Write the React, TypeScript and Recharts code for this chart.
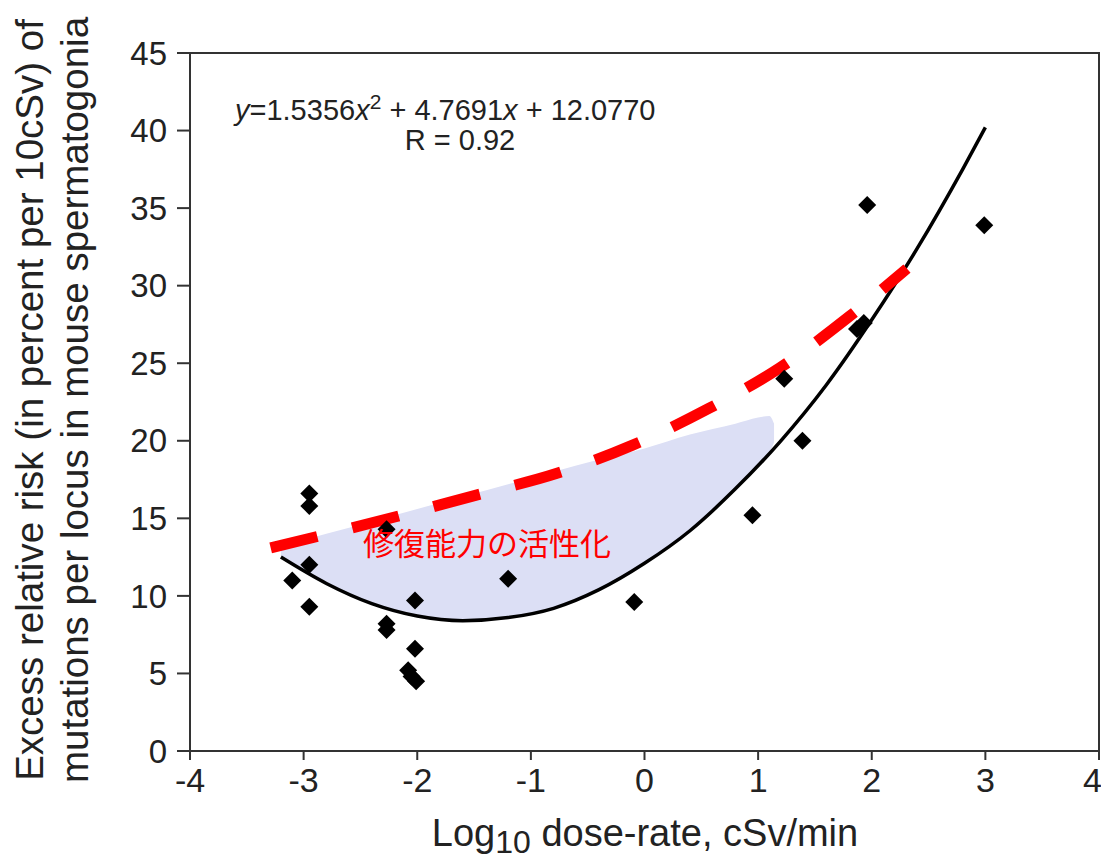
import {
  ComposedChart,
  Line,
  Area,
  Scatter,
  XAxis,
  YAxis,
  ReferenceArea,
} from 'recharts'

// Observed points (log10 dose-rate, excess relative risk)
const pointX = [-3.1, -2.95, -2.95, -2.95, -2.95, -2.27, -2.27, -2.27, -2.02, -2.02, -2.08, -2.05, -2.01, -1.2, -0.09, 0.95, 1.23, 1.39, 1.87, 1.93, 1.96, 2.99]
const pointY = [11.0, 16.6, 15.8, 12.0, 9.3, 14.3, 8.2, 7.8, 9.7, 6.6, 5.2, 4.8, 4.5, 11.1, 9.6, 15.2, 24.0, 20.0, 27.2, 27.6, 35.2, 33.9]

// Fitted quadratic curve
const curveX = [-3.2, -2.8, -2.4, -2.0, -1.6, -1.2, -0.8, -0.4, 0, 0.4, 0.8, 1.2, 1.6, 2.0, 2.4, 2.8, 3.0]
const curveY = [12.5, 10.8, 9.5, 8.7, 8.4, 8.6, 9.2, 10.4, 12.1, 14.2, 16.9, 20.0, 23.6, 27.8, 32.4, 37.5, 40.2]

// Red dashed "repair activation" line
const repairX = [-3.29, -2.19, -1.48, -0.77, -0.11, 0.57, 1.19, 1.8, 2.31]
const repairY = [13.1, 15.1, 16.5, 17.9, 19.7, 22.1, 24.7, 28.0, 31.1]

// Shaded band between fitted curve and its upper edge
const bandX = [-3.2, -2.8, -2.4, -2.0, -1.6, -1.2, -0.8, -0.4, 0, 0.4, 0.8, 1.0, 1.1, 1.14]
const bandLow = [12.5, 10.8, 9.5, 8.7, 8.4, 8.6, 9.2, 10.4, 12.1, 14.2, 16.9, 18.4, 19.2, 19.9]
const bandHigh = [13.2, 14.0, 14.8, 15.6, 16.4, 17.2, 18.0, 18.8, 19.5, 20.4, 21.1, 21.5, 21.6, 21.1]

const xTicks = [-4, -3, -2, -1, 0, 1, 2, 3, 4]
const yTicks = [0, 5, 10, 15, 20, 25, 30, 35, 40, 45]

const FONT = '"Liberation Sans", Arial, Helvetica, sans-serif'

const points = pointX.map((x, i) => ({ x, y: pointY[i] }))
const curve = curveX.map((x, i) => ({ x, y: curveY[i] }))
const repair = repairX.map((x, i) => ({ x, y: repairY[i] }))
const band = bandX.map((x, i) => ({ x, band: [bandLow[i], bandHigh[i]] }))

const Diamond = (props: any) => {
  const { cx, cy } = props
  const r = 9
  return (
    <polygon
      points={`${cx},${cy - r} ${cx + r},${cy} ${cx},${cy + r} ${cx - r},${cy}`}
      fill="#000"
    />
  )
}

export default function App() {
  return (
    <div style={{ position: 'absolute', left: 0, top: 0, width: 1101, height: 862, background: '#fff' }}>
      <ComposedChart
        width={1101}
        height={862}
        margin={{ top: 53, right: 2, bottom: 51, left: 90 }}
      >
        <XAxis
          type="number"
          dataKey="x"
          domain={[-4, 4]}
          ticks={xTicks}
          allowDataOverflow
          height={60}
          tickSize={9}
          tickMargin={8}
          stroke="#333"
          strokeWidth={2}
          tick={{ fill: '#222', fontSize: 34, fontFamily: FONT }}
        />
        <YAxis
          type="number"
          dataKey="y"
          domain={[0, 45]}
          ticks={yTicks}
          allowDataOverflow
          width={100}
          tickSize={13}
          tickMargin={10}
          stroke="#333"
          strokeWidth={2}
          tick={{ fill: '#222', fontSize: 33, fontFamily: FONT }}
        />
        <ReferenceArea x1={-4} x2={4} y1={0} y2={45} fill="none" stroke="#333" strokeWidth={2} />
        <Area
          data={band}
          dataKey="band"
          type="monotone"
          fill="#dcdff5"
          fillOpacity={1}
          stroke="none"
          isAnimationActive={false}
        />
        <Line
          data={curve}
          dataKey="y"
          type="monotone"
          stroke="#000"
          strokeWidth={3.5}
          dot={false}
          isAnimationActive={false}
        />
        <Scatter data={points} dataKey="y" shape={<Diamond />} isAnimationActive={false} />
        <Line
          data={repair}
          dataKey="y"
          type="monotone"
          stroke="#ff0000"
          strokeWidth={11}
          strokeDasharray="48 36"
          dot={false}
          isAnimationActive={false}
        />
      </ComposedChart>

      <svg
        width={1101}
        height={862}
        style={{ position: 'absolute', left: 0, top: 0, pointerEvents: 'none' }}
        fontFamily={FONT}
      >
        <text transform="translate(43,400) rotate(-90)" textAnchor="middle" fontSize={38.5} fill="#222">
          Excess relative risk (in percent per 10cSv) of
        </text>
        <text transform="translate(88,400) rotate(-90)" textAnchor="middle" fontSize={38.5} fill="#222">
          mutations per locus in mouse spermatogonia
        </text>
        <text x={645} y={846} textAnchor="middle" fontSize={38} fill="#222">
          <tspan>Log</tspan>
          <tspan fontSize={32} dy={7}>10</tspan>
          <tspan dy={-7}> dose-rate, cSv/min</tspan>
        </text>
        <text x={235} y={120} fontSize={29} fill="#222">
          <tspan fontStyle="italic">y</tspan>
          <tspan>=1.5356</tspan>
          <tspan fontStyle="italic">x</tspan>
          <tspan fontSize={21} dy={-11}>2</tspan>
          <tspan dy={11}> + 4.7691</tspan>
          <tspan fontStyle="italic">x</tspan>
          <tspan> + 12.0770</tspan>
        </text>
        <text x={460} y={150} textAnchor="middle" fontSize={29} fill="#222">
          R = 0.92
        </text>
        <text x={363} y={555} fontSize={31} fill="#ff0000" fontFamily='"Noto Sans CJK JP", sans-serif'>
          修復能力の活性化
        </text>
      </svg>
    </div>
  )
}
